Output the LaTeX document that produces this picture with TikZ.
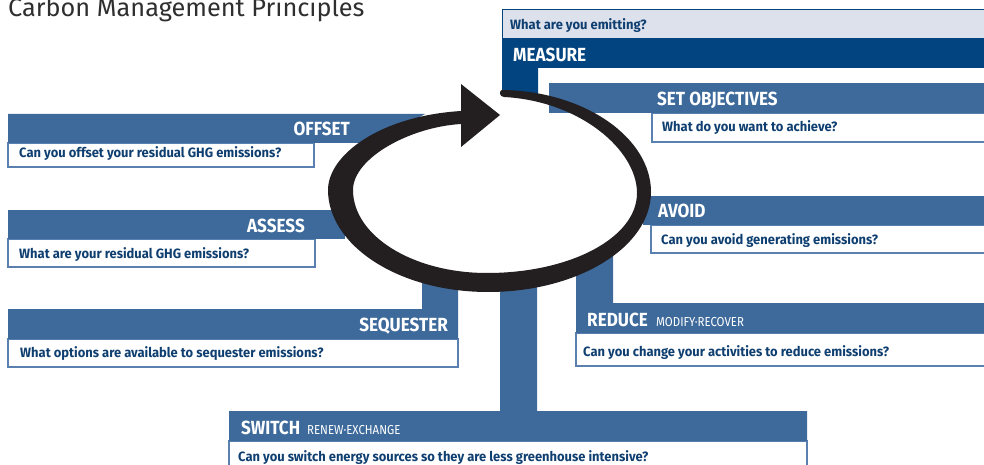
\documentclass[tikz,border=0pt]{standalone}
\usepackage{fontspec}
\setmainfont{Fira Sans}
\newfontfamily\condfont{Fira Sans}[FakeStretch=0.9]
\newfontfamily\subfont{Fira Sans}[FakeStretch=0.88]
\newfontfamily\qfont{Fira Sans}[FakeStretch=0.96]
\definecolor{mblue}{HTML}{3D6A9B}
\definecolor{dblue}{HTML}{02447F}
\definecolor{lfill}{HTML}{DCE1EC}
\definecolor{qblue}{HTML}{0F3F70}
\definecolor{qborder}{HTML}{5A80B0}
\definecolor{ringc}{HTML}{231F20}
\definecolor{titlec}{HTML}{2F2F2F}
\begin{document}
\begin{tikzpicture}[x=1pt,y=-1pt,
  lbl/.style={inner sep=0pt, text=white, font=\condfont\bfseries\fontsize{19}{19}\selectfont},
  sublbl/.style={inner sep=0pt, text=white, font=\subfont\fontsize{13}{13}\selectfont},
  qtxt/.style={inner sep=0pt, text=qblue, font=\qfont\bfseries\fontsize{13.5}{13.5}\selectfont},
  strip/.style={fill=mblue},
  qbox/.style={draw=qborder, line width=1.2pt, fill=white}]
\clip (0,0) rectangle (984,465);
\fill[white] (0,0) rectangle (984,465);
% title
\node[inner sep=0pt, anchor=base west, text=titlec, font=\fontsize{25.3}{25.3}\selectfont] (title) at (8,17) {Carbon Management Principles};
% MEASURE
\draw[draw=dblue, line width=1pt, fill=lfill] (502,10) rectangle (992,39);
\fill[dblue] (502,39) -- (992,39) -- (992,68) -- (538,68) -- (538,95) -- (502,95) -- cycle;
% SET OBJECTIVES
\draw[qbox] (652,113) rectangle (992,142);
\fill[strip] (549,83) rectangle (992,113);
% OFFSET
\draw[qbox] (8,143) rectangle (314,167);
\fill[strip] (8,114) -- (425,114) -- (375,143) -- (8,143) -- cycle;
% ASSESS
\draw[qbox] (8,239) rectangle (315,267);
\fill[strip] (8,210) rectangle (345,239);
% SEQUESTER
\draw[qbox] (8,339) rectangle (458,367);
\fill[strip] (8,309) -- (422,309) -- (422,272) -- (458,280) -- (458,339) -- (8,339) -- cycle;
% AVOID
\draw[qbox] (651,225) rectangle (992,253);
\fill[strip] (643,196) rectangle (992,225);
% REDUCE
\draw[qbox] (576,333) rectangle (992,366);
\fill[strip] (576,268) -- (613,248) -- (613,303) -- (992,303) -- (992,333) -- (576,333) -- cycle;
% SWITCH
\draw[qbox] (229,441) rectangle (807,472);
\fill[strip] (229,411) -- (500,411) -- (500,283) -- (537,279) -- (537,411) -- (807,411) -- (807,441) -- (229,441) -- cycle;
% cycle arrow
\fill[ringc] (502,90) .. controls (585,91) and (651,138) .. (651,192)
  .. controls (651,247) and (578,292) .. (488,292)
  .. controls (398,292) and (328,245) .. (328,190)
  .. controls (328,155) and (380,116) .. (461,111)
  -- (461,84) -- (500,115) -- (461,147) -- (461,124)
  .. controls (410,127) and (353,158) .. (353,190)
  .. controls (353,236) and (413,273) .. (487,273)
  .. controls (570,273) and (637,238) .. (637,193)
  .. controls (637,150) and (580,101) .. (504,97)
  .. controls (499,97) and (499,90) .. (502,90) -- cycle;
% labels
\node[lbl, anchor=base west] (measure) at (513,62) {MEASURE};
\node[qtxt, anchor=base west] (qmeasure) at (510,30) {What are you emitting?};
\node[lbl, anchor=base west] (setobj) at (657,106) {SET OBJECTIVES};
\node[qtxt, anchor=base west] (qsetobj) at (662,132) {What do you want to achieve?};
\node[lbl, anchor=base east] (offset) at (350,136) {OFFSET};
\node[qtxt, anchor=base west] (qoffset) at (19,158) {Can you offset your residual GHG emissions?};
\node[lbl, anchor=base east] (assess) at (305,232) {ASSESS};
\node[qtxt, anchor=base west] (qassess) at (19,258) {What are your residual GHG emissions?};
\node[lbl, anchor=base east] (sequester) at (448,331) {SEQUESTER};
\node[qtxt, anchor=base west] (qsequester) at (20,357) {What options are available to sequester emissions?};
\node[lbl, anchor=base west] (avoid) at (658,217) {AVOID};
\node[qtxt, anchor=base west] (qavoid) at (661,244) {Can you avoid generating emissions?};
\node[lbl, anchor=base west] (reduce) at (587,326) {REDUCE};
\node[sublbl, anchor=base west] (reducesub) at (656,326) {MODIFY·RECOVER};
\node[qtxt, anchor=base west] (qreduce) at (583,356) {Can you change your activities to reduce emissions?};
\node[lbl, anchor=base west] (switch) at (241,434) {SWITCH};
\node[sublbl, anchor=base west] (switchsub) at (307,434) {RENEW·EXCHANGE};
\node[qtxt, anchor=base west] (qswitch) at (238,461) {Can you switch energy sources so they are less greenhouse intensive?};
\end{tikzpicture}
\end{document}
